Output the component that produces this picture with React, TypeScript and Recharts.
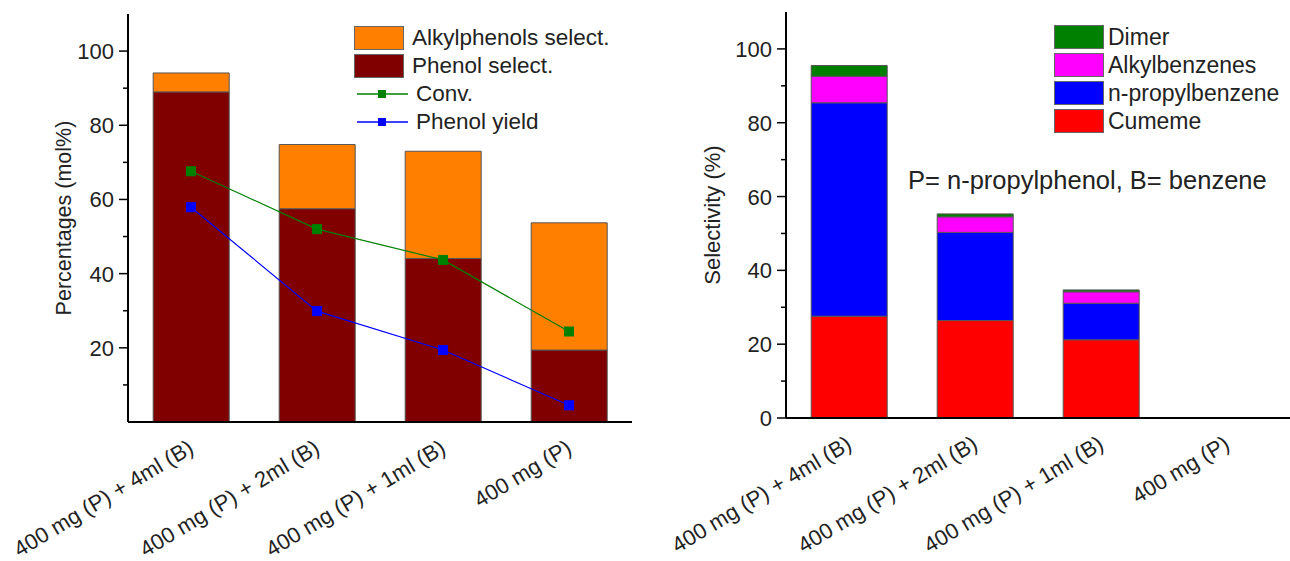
import React from 'react';
import { ComposedChart, BarChart, Bar, Line, XAxis, YAxis, Label } from 'recharts';

const CATEGORIES = ['400 mg (P) + 4ml (B)', '400 mg (P) + 2ml (B)', '400 mg (P) + 1ml (B)', '400 mg (P)'];

// left panel
const PHENOL_SEL = [89.0, 57.5, 44.1, 19.4];
const ALKYLPHENOL_SEL = [5.1, 17.3, 28.9, 34.3];
const CONV = [67.6, 52.0, 43.7, 24.4];
const PHENOL_YIELD = [57.9, 29.9, 19.4, 4.5];

// right panel
const CUMENE = [27.6, 26.4, 21.2, 0];
const N_PROPYLBENZENE = [57.8, 23.9, 9.9, 0];
const ALKYLBENZENES = [7.2, 4.2, 3.1, 0];
const DIMER = [2.9, 0.8, 0.5, 0];

const LEFT_TICKS = [10, 20, 30, 40, 50, 60, 70, 80, 90, 100];
const RIGHT_TICKS = [0, 10, 20, 30, 40, 50, 60, 70, 80, 90, 100];

const FONT = '"Liberation Sans", Arial, sans-serif';
const TEXT = '#222';

const leftData = CATEGORIES.map((c, i) => ({
    cat: c,
    phenol: PHENOL_SEL[i],
    alkyl: ALKYLPHENOL_SEL[i],
    conv: CONV[i],
    yield: PHENOL_YIELD[i],
}));

const rightData = CATEGORIES.map((c, i) => ({
    cat: c,
    cumene: CUMENE[i],
    npb: N_PROPYLBENZENE[i],
    alkylb: ALKYLBENZENES[i],
    dimer: DIMER[i],
}));

// rotated category labels
const XTick = (props: any) => {
    const { x, y, payload } = props;
    return (
        <g transform={`translate(${x + 4},${y + 30})`}>
            <text transform="rotate(-31)" textAnchor="end" fontSize={22} fill={TEXT} fontFamily={FONT}>
                {payload.value}
            </text>
        </g>
    );
};

// y ticks with minor ticks, labels only on majors
const makeYTick = (axisX: number) => (props: any) => {
    const { y, payload } = props;
    const major = payload.value % 20 === 0;
    return (
        <g>
            <line x1={axisX - (major ? 9 : 5)} x2={axisX} y1={y} y2={y} stroke="#000" strokeWidth={1.5} />
            {major && (
                <text x={axisX - 14} y={y} dy={8} textAnchor="end" fontSize={22} fill={TEXT} fontFamily={FONT}>
                    {payload.value}
                </text>
            )}
        </g>
    );
};

const SquareDot = (color: string) => (props: any) => {
    const { cx, cy } = props;
    if (cx == null || cy == null) return <g />;
    return <rect x={cx - 4.5} y={cy - 4.5} width={9} height={9} fill={color} stroke={color} />;
};

const boxStyle = (color: string): React.CSSProperties => ({
    width: 50, height: 24, background: color, border: '1px solid #666', boxSizing: 'border-box', marginRight: 8,
});

const rowStyle: React.CSSProperties = { display: 'flex', alignItems: 'center', height: 28, whiteSpace: 'nowrap' };

const LeftLegend = () => (
    <div style={{ position: 'absolute', left: 354, top: 24, fontFamily: FONT, fontSize: 22.5, color: TEXT }}>
        <div style={rowStyle}><div style={boxStyle('#ff8000')} />Alkylphenols select.</div>
        <div style={rowStyle}><div style={boxStyle('#800000')} />Phenol select.</div>
        {[['#008000', 'Conv.'], ['#0000ff', 'Phenol yield']].map(([c, t]) => (
            <div key={t} style={rowStyle}>
                <svg width={56} height={12} style={{ marginRight: 6 }}>
                    <line x1={3} x2={54} y1={6} y2={6} stroke={c} strokeWidth={1.5} />
                    <rect x={24} y={2} width={8} height={8} fill={c} />
                </svg>
                {t}
            </div>
        ))}
    </div>
);

const RightLegend = () => (
    <div style={{ position: 'absolute', left: 409, top: 23, fontFamily: FONT, fontSize: 23, color: TEXT }}>
        {[['#008000', 'Dimer'], ['#ff00ff', 'Alkylbenzenes'], ['#0000ff', 'n-propylbenzene'], ['#ff0000', 'Cumeme']].map(([c, t]) => (
            <div key={t} style={rowStyle}><div style={{ ...boxStyle(c), marginRight: 4 }} />{t}</div>
        ))}
    </div>
);

export default function App() {
    const barStroke = '#555';
    return (
        <div style={{ position: 'absolute', left: 0, top: 0, width: 1290, height: 561, background: '#fff', overflow: 'hidden' }}>
            <div style={{ position: 'absolute', left: 0, top: 0, width: 645, height: 561 }}>
                <ComposedChart width={645} height={561} data={leftData} margin={{ top: 14, right: 13, bottom: 0, left: 0 }} barCategoryGap="20%">
                    <XAxis dataKey="cat" height={139} tick={<XTick />} tickLine={false} tickSize={0} tickMargin={0} interval={0}
                        axisLine={{ stroke: '#000', strokeWidth: 2 }} />
                    <XAxis xAxisId="top" dataKey="cat" orientation="top" height={0} tick={false} tickLine={false}
                        axisLine={{ stroke: '#000', strokeWidth: 2 }} />
                    <YAxis width={128} domain={[0, 110]} ticks={LEFT_TICKS} tick={makeYTick(128)} tickLine={false}
                        axisLine={{ stroke: '#000', strokeWidth: 2 }} allowDataOverflow>
                        <Label value="Percentages (mol%)" angle={-90} position="center" dx={-1} fontSize={21.5} fill={TEXT} fontFamily={FONT} />
                    </YAxis>
                    <YAxis yAxisId="r" orientation="right" width={0} domain={[0, 110]} tick={false} tickLine={false}
                        axisLine={{ stroke: '#000', strokeWidth: 2 }} />
                    <Bar dataKey="phenol" stackId="s" fill="#800000" stroke={barStroke} strokeWidth={1} isAnimationActive={false} />
                    <Bar dataKey="alkyl" stackId="s" fill="#ff8000" stroke={barStroke} strokeWidth={1} isAnimationActive={false} />
                    <Line dataKey="conv" stroke="#008000" strokeWidth={1.2} dot={SquareDot('#008000')} activeDot={false} isAnimationActive={false} />
                    <Line dataKey="yield" stroke="#0000ff" strokeWidth={1.2} dot={SquareDot('#0000ff')} activeDot={false} isAnimationActive={false} />
                </ComposedChart>
                <LeftLegend />
            </div>
            <div style={{ position: 'absolute', left: 645, top: 0, width: 645, height: 561 }}>
                <BarChart width={645} height={561} data={rightData} margin={{ top: 12, right: 0, bottom: 0, left: 0 }} barCategoryGap="20%">
                    <XAxis dataKey="cat" height={143} tick={<XTick />} tickLine={false} tickSize={0} tickMargin={0} interval={0}
                        axisLine={{ stroke: '#000', strokeWidth: 2 }} />
                    <XAxis xAxisId="top" dataKey="cat" orientation="top" height={0} tick={false} tickLine={false}
                        axisLine={{ stroke: '#000', strokeWidth: 2 }} />
                    <YAxis width={141} domain={[0, 110]} ticks={RIGHT_TICKS} tick={makeYTick(141)} tickLine={false}
                        axisLine={{ stroke: '#000', strokeWidth: 2 }} allowDataOverflow>
                        <Label value="Selectivity (%)" angle={-90} position="center" dx={-3} fontSize={22} fill={TEXT} fontFamily={FONT} />
                    </YAxis>
                    <Bar dataKey="cumene" stackId="s" fill="#ff0000" stroke={barStroke} strokeWidth={1} isAnimationActive={false} />
                    <Bar dataKey="npb" stackId="s" fill="#0000ff" stroke={barStroke} strokeWidth={1} isAnimationActive={false} />
                    <Bar dataKey="alkylb" stackId="s" fill="#ff00ff" stroke={barStroke} strokeWidth={1} isAnimationActive={false} />
                    <Bar dataKey="dimer" stackId="s" fill="#007f00" stroke={barStroke} strokeWidth={1} isAnimationActive={false} />
                </BarChart>
                <RightLegend />
                <div style={{ position: 'absolute', left: 263, top: 166, fontFamily: FONT, fontSize: 25.5, color: TEXT, whiteSpace: 'nowrap' }}>
                    P= n-propylphenol, B= benzene
                </div>
            </div>
        </div>
    );
}
